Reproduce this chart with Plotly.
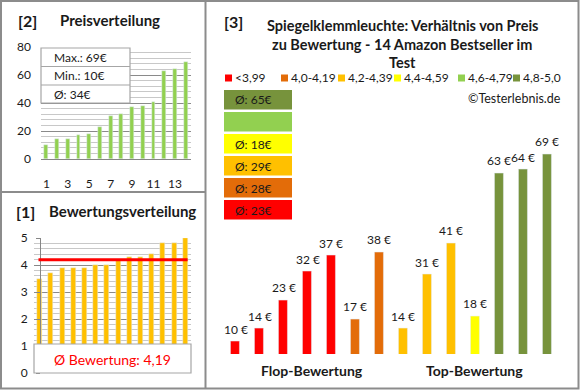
import plotly.graph_objects as go

# ---------------- data ----------------
price_idx = list(range(1, 15))
prices_sorted = [10, 14, 14, 17, 18, 23, 31, 32, 37, 38, 41, 63, 64, 69]
ratings_sorted = [3.5, 3.7, 3.9, 3.9, 3.9, 4.0, 4.0, 4.2, 4.3, 4.3, 4.4, 4.8, 4.8, 5.0]

bar_prices = [10, 14, 23, 32, 37, 17, 38, 14, 31, 41, 18, 63, 64, 69]
bar_groups = [0, 0, 0, 0, 0, 1, 1, 2, 2, 2, 3, 5, 5, 5]

legend_labels = ["<3,99", "4,0-4,19", "4,2-4,39", "4,4-4,59", "4,6-4,79", "4,8-5,0"]
group_colors = ["#FF0000", "#E36C09", "#FFC000", "#FFFF00", "#92D050", "#77933C"]

title_lines = ["Spiegelklemmleuchte: Verhältnis von Preis",
               "zu Bewertung - 14 Amazon Bestseller im",
               "Test"]
x_group_labels = ["Flop-Bewertung", "Top-Bewertung"]

FONT = "Lato"
TXT = "#1a1a1a"
W, H = 580, 390


def px(x):
    return x / W


def py(y):
    return 1 - y / H


fig = go.Figure()

# top-left: Preisverteilung
fig.add_trace(go.Bar(x=price_idx, y=prices_sorted, marker_color="#92D050",
                     width=0.37, xaxis="x", yaxis="y", showlegend=False))
# bottom-left: Bewertungsverteilung
fig.add_trace(go.Bar(x=price_idx, y=ratings_sorted, marker_color="#FFC000",
                     width=0.45, xaxis="x2", yaxis="y2", showlegend=False))
# right: price vs rating
bar_x = list(range(len(bar_prices)))
fig.add_trace(go.Bar(x=bar_x, y=bar_prices,
                     marker_color=[group_colors[g] for g in bar_groups],
                     width=0.375, xaxis="x3", yaxis="y3", showlegend=False))

shapes = []
annotations = []

# panel borders
border = "#8c8c8c"
shapes.append(dict(type="rect", xref="paper", yref="paper", x0=px(1), x1=px(578.5),
                   y0=py(388.5), y1=py(1), line=dict(color=border, width=2)))
shapes.append(dict(type="line", xref="paper", yref="paper", x0=px(205.5), x1=px(205.5),
                   y0=py(388.5), y1=py(1), line=dict(color=border, width=2)))
shapes.append(dict(type="line", xref="paper", yref="paper", x0=px(1), x1=px(205.5),
                   y0=py(192), y1=py(192), line=dict(color=border, width=2)))


def add_text(x, y, text, size, bold=False, color=TXT, xanchor="left"):
    annotations.append(dict(xref="paper", yref="paper", x=px(x), y=py(y), text=text,
                            showarrow=False, xanchor=xanchor, yanchor="middle",
                            font=dict(family=FONT, size=size, color=color,
                                      weight="bold" if bold else "normal")))


add_text(16, 20, "[2]", 16, True)
add_text(58, 20, "Preisverteilung", 15, True)
add_text(14, 211, "[1]", 16, True)
add_text(47, 211, "Bewertungsverteilung", 15, True)
add_text(222, 21, "[3]", 16, True)
for i, line in enumerate(title_lines):
    add_text(402, 26 + i * 18.5, line, 14.5, True, xanchor="center")

# stats box top-left
stats = [f"Max.: {max(prices_sorted)}€", f"Min.: {min(prices_sorted)}€",
         f"Ø: {round(sum(prices_sorted) / len(prices_sorted))}€"]
shapes.append(dict(type="rect", xref="paper", yref="paper", x0=px(41), x1=px(130),
                   y0=py(103), y1=py(48), fillcolor="white", line=dict(color="#a6a6a6", width=1.2),
                   layer="above"))
for yy in (66.5, 85):
    shapes.append(dict(type="line", xref="paper", yref="paper", x0=px(41), x1=px(130),
                       y0=py(yy), y1=py(yy), line=dict(color="#a6a6a6", width=1.2), layer="above"))
for i, s in enumerate(stats):
    add_text(52, 57.5 + i * 18.5, s, 12)

# rating box bottom-left
avg_rating = sum(ratings_sorted) / len(ratings_sorted)
shapes.append(dict(type="rect", xref="paper", yref="paper", x0=px(34), x1=px(191),
                   y0=py(373), y1=py(344), fillcolor="white", line=dict(color="#a6a6a6", width=1.2),
                   layer="above"))
add_text(112, 359, "Ø Bewertung: " + f"{avg_rating:.2f}".replace(".", ","), 14,
         color="#FF0000", xanchor="center")
shapes.append(dict(type="line", xref="x2", yref="y2", x0=0.9, x1=14.2,
                   y0=avg_rating, y1=avg_rating, line=dict(color="#FF0000", width=3)))

# legend row
leg_x = [225, 281, 338, 394, 458, 513]
for lx, lab, col in zip(leg_x, legend_labels, group_colors):
    shapes.append(dict(type="rect", xref="paper", yref="paper", x0=px(lx), x1=px(lx + 7),
                       y0=py(81.5), y1=py(74.5), fillcolor=col, line=dict(width=0)))
    add_text(lx + 8, 78, lab, 12)

add_text(563, 98, "©Testerlebnis.de", 12.5, xanchor="right")

# average boxes (top: best group)
box_tops = [90, 112, 134, 156, 178, 200]
for k, top in enumerate(box_tops):
    g = len(group_colors) - 1 - k
    vals = [p for p, gg in zip(bar_prices, bar_groups) if gg == g]
    shapes.append(dict(type="rect", xref="paper", yref="paper", x0=px(224), x1=px(292),
                       y0=py(top + 19.5), y1=py(top), fillcolor=group_colors[g], line=dict(width=0)))
    if vals:
        add_text(233, top + 10, f"Ø: {round(sum(vals) / len(vals))}€", 12)

# value labels above bars
for xi, v in zip(bar_x, bar_prices):
    annotations.append(dict(xref="x3", yref="y3", x=xi, y=v, text=f"{v} €", showarrow=False,
                            yanchor="bottom", yshift=3,
                            font=dict(family=FONT, size=12, color=TXT)))

# group labels
add_text(312, 370, x_group_labels[0], 14, True, xanchor="center")
add_text(474, 370, x_group_labels[1], 14, True, xanchor="center")

tickfont = dict(family=FONT, size=12, color=TXT)
fig.update_layout(
    width=W, height=H, margin=dict(l=0, r=0, t=0, b=0, autoexpand=False),
    paper_bgcolor="white", plot_bgcolor="white",
    bargap=0, showlegend=False, shapes=shapes, annotations=annotations,
    xaxis=dict(domain=[px(41), px(191)], range=[0.5, 14.5], tickvals=[1, 3, 5, 7, 9, 11, 13],
               tickfont=tickfont, showgrid=False, zeroline=False, showline=True,
               linecolor="#868686", linewidth=1, ticks="", ticklabelstandoff=14, fixedrange=True,
               automargin=False),
    yaxis=dict(domain=[py(159), py(47)], range=[0, 80], tickvals=[0, 20, 40, 60, 80],
               tickfont=tickfont, showgrid=True, gridcolor="#8a8a8a", gridwidth=1,
               minor=dict(dtick=4, showgrid=True, gridcolor="#c8c8c8", gridwidth=1),
               zeroline=False, showline=False, ticklabelstandoff=9, fixedrange=True,
               automargin=False),
    xaxis2=dict(domain=[px(34), px(191)], range=[0.5, 14.5], showticklabels=False,
                showgrid=False, zeroline=False, showline=False, ticks="", fixedrange=True,
                automargin=False),
    yaxis2=dict(domain=[py(373), py(238)], range=[0, 5], tickvals=[0, 1, 2, 3, 4, 5],
                tickfont=tickfont, showgrid=True, gridcolor="#8a8a8a", gridwidth=1,
                minor=dict(dtick=0.2, showgrid=True, gridcolor="#c8c8c8", gridwidth=1),
                zeroline=False, showline=True, linecolor="#868686", linewidth=1,
                ticks="outside", ticklen=4, tickcolor="#868686", ticklabelstandoff=6,
                fixedrange=True, automargin=False),
    xaxis3=dict(domain=[px(223.7), px(559)], range=[-0.5, 13.5], visible=False, fixedrange=True),
    yaxis3=dict(domain=[py(354), py(144.3)], range=[6.07, 72], visible=False, fixedrange=True),
)

fig.write_html("out.html", config={"displayModeBar": False},
               post_script="document.body.style.margin='0';document.body.style.overflow='hidden';")
